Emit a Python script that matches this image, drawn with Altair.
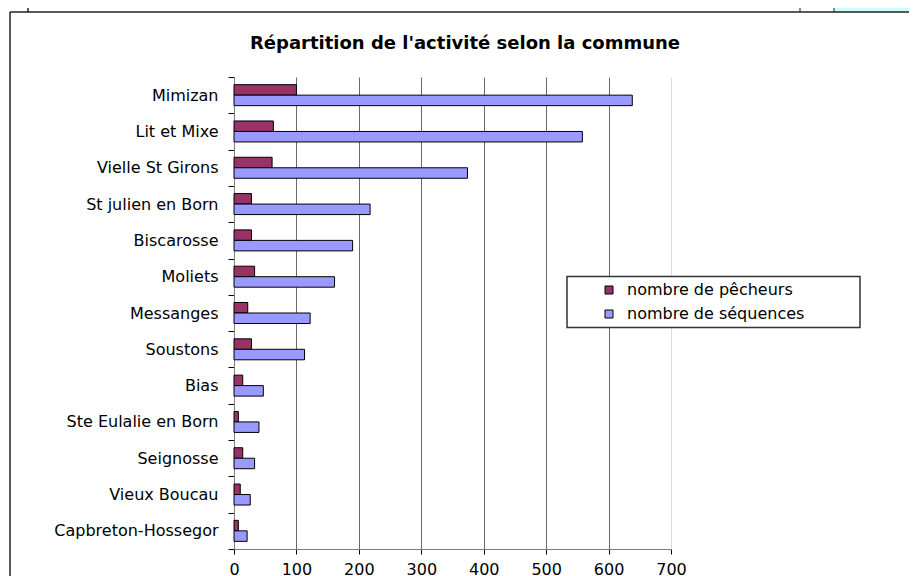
import altair as alt
import pandas as pd

communes = ["Mimizan", "Lit et Mixe", "Vielle St Girons", "St julien en Born",
            "Biscarosse", "Moliets", "Messanges", "Soustons", "Bias",
            "Ste Eulalie en Born", "Seignosse", "Vieux Boucau", "Capbreton-Hossegor"]
pecheurs = [100, 63, 61, 28, 28, 33, 22, 28, 14, 7, 14, 10, 7]
sequences = [638, 558, 374, 218, 190, 161, 122, 113, 47, 40, 33, 26, 21]
series = ["nombre de pêcheurs", "nombre de séquences"]
colors = ["#993366", "#9999FF"]
x_ticks = [0, 100, 200, 300, 400, 500, 600, 700]
title_text = "Répartition de l'activité selon la commune"

rows = []
for c, p, s in zip(communes, pecheurs, sequences):
    rows.append({"commune": c, "serie": series[0], "valeur": p})
    rows.append({"commune": c, "serie": series[1], "valeur": s})
df = pd.DataFrame(rows)

FONT = "DejaVu Sans"
FS = 16

bars = alt.Chart(df).mark_bar(stroke="black", strokeWidth=1).encode(
    y=alt.Y("commune:N", sort=communes,
            scale=alt.Scale(paddingInner=0, paddingOuter=0),
            axis=alt.Axis(title=None, tickBand="extent", tickSize=6, labelPadding=10,
                          domainColor="#808080", tickColor="#000000",
                          labelFontSize=FS, labelFont=FONT, labelColor="black",
                          labelLimit=300, grid=False)),
    yOffset=alt.YOffset("serie:N", sort=series,
                        scale=alt.Scale(domain=series, paddingInner=0, paddingOuter=0.73)),
    x=alt.X("valeur:Q", scale=alt.Scale(domain=[0, 700], nice=False),
            axis=alt.Axis(values=x_ticks, title=None, tickSize=5, labelPadding=7,
                          labelFlush=False, labelOverlap=False,
                          domainColor="#808080", tickColor="#000000",
                          labelFontSize=FS, labelFont=FONT, labelColor="black",
                          grid=True, gridWidth=1,
                          gridColor={"condition": {"test": "datum.value === 700", "value": "#dddddd"},
                                     "value": "#6a6a6a"})),
    color=alt.Color("serie:N", sort=series,
                    scale=alt.Scale(domain=series, range=colors),
                    legend=alt.Legend(title=None, orient="none", legendX=367, legendY=205,
                                      padding=0, symbolType="square", symbolSize=64,
                                      symbolStrokeColor="black", symbolStrokeWidth=1,
                                      symbolOffset=0, labelOffset=10, rowPadding=8,
                                      labelLimit=400,
                                      labelFontSize=FS, labelFont=FONT, labelColor="black")),
)

one = pd.DataFrame({"k": [0]})
deco_color = "#222222"
title_mark = alt.Chart(one).mark_text(
    text=title_text, font=FONT, fontSize=18, fontWeight="bold", color="black",
    align="center", baseline="alphabetic").encode(x=alt.value(231), y=alt.value(-28))
legend_box = alt.Chart(one).mark_rect(fill="white", stroke="#333333", strokeWidth=1.5).encode(
    x=alt.value(333), x2=alt.value(626), y=alt.value(199.5), y2=alt.value(250.5))
frame_left = alt.Chart(one).mark_rule(color=deco_color, strokeWidth=1.5).encode(
    x=alt.value(-224), y=alt.value(-65), y2=alt.value(520))
frame_top = alt.Chart(one).mark_rule(color=deco_color, strokeWidth=1.5).encode(
    x=alt.value(-224), x2=alt.value(720), y=alt.value(-65))
cyan_box = alt.Chart(one).mark_rect(color="#CCFFFF").encode(
    x=alt.value(600), x2=alt.value(720), y=alt.value(-80), y2=alt.value(-65))
vline1 = alt.Chart(one).mark_rule(color=deco_color, strokeWidth=1.5).encode(
    x=alt.value(-206), y=alt.value(-80), y2=alt.value(-65))
vline2 = alt.Chart(one).mark_rule(color=deco_color, strokeWidth=1).encode(
    x=alt.value(566), y=alt.value(-80), y2=alt.value(-65))
vline3 = alt.Chart(one).mark_rule(color=deco_color, strokeWidth=1).encode(
    x=alt.value(600), y=alt.value(-80), y2=alt.value(-65))

chart = alt.layer(cyan_box, frame_left, frame_top, vline1, vline2, vline3,
                  title_mark, legend_box, bars).properties(
    width=437, height=472,
    autosize=alt.AutoSizeParams(type="none"),
    padding={"left": 226, "top": 69, "right": 238, "bottom": 27},
).configure_view(stroke=None)

chart.save("out.html", embed_options={"renderer": "svg", "actions": False})
